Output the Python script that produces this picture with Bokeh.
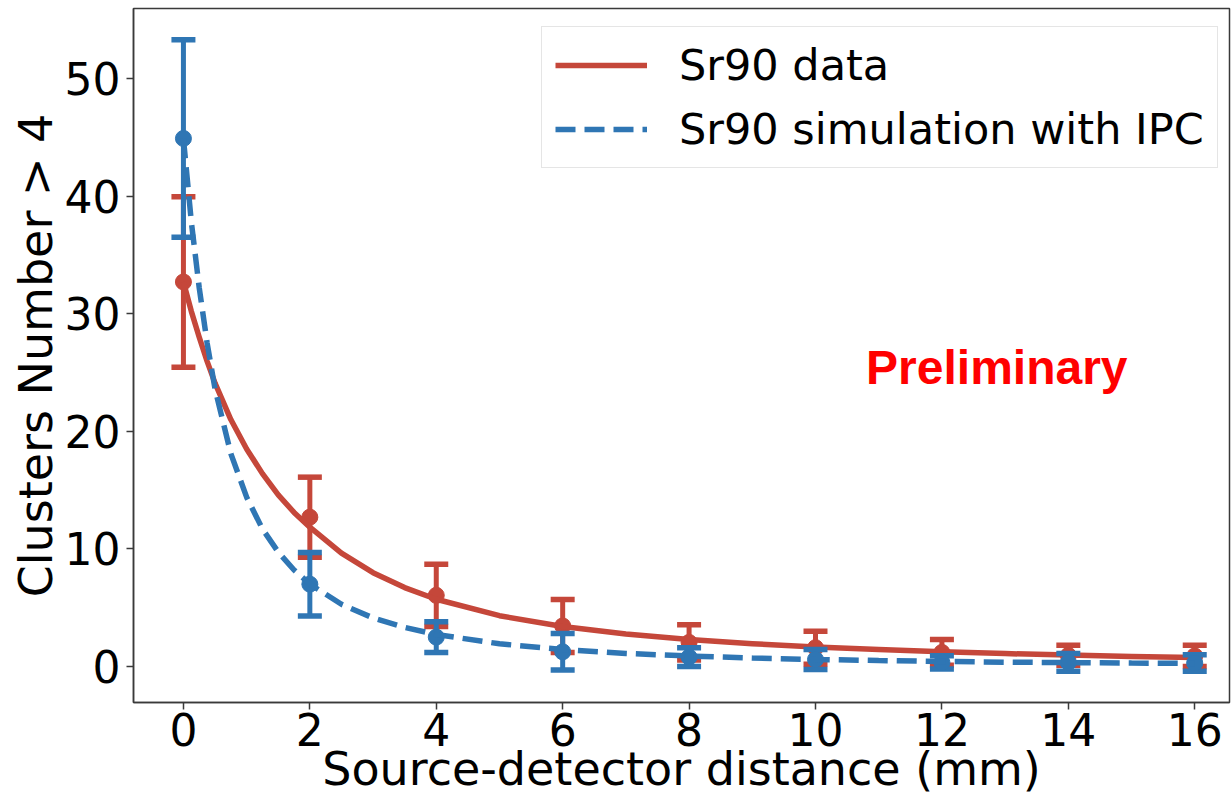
from bokeh.plotting import figure
from bokeh.models import Range1d, FixedTicker, Legend, LegendItem, ColumnDataSource, Label
from bokeh.embed import file_html
from bokeh.resources import INLINE

# ---- data ----
distance = [0, 2, 4, 6, 8, 10, 12, 14, 16]
data_counts = [32.7, 12.7, 6.05, 3.45, 2.05, 1.6, 1.2, 0.95, 0.9]
data_err = [7.25, 3.4, 2.65, 2.25, 1.5, 1.4, 1.1, 0.85, 0.9]
sim_counts = [44.9, 7.0, 2.5, 1.25, 0.8, 0.6, 0.35, 0.35, 0.3]
sim_err = [8.4, 2.7, 1.3, 1.55, 0.8, 0.85, 0.57, 0.75, 0.7]

fit_x = [0, 0.125, 0.25, 0.375, 0.5, 0.75, 1, 1.25, 1.5, 1.75, 2, 2.5, 3, 3.5, 4,
         5, 6, 7, 8, 9, 10, 11, 12, 13, 14, 15, 16]
data_fit = [32.7, 30.2, 28.0, 25.95, 24.1, 21.0, 18.5, 16.4, 14.6, 13.1, 11.85, 9.64, 7.98,
            6.71, 5.72, 4.32, 3.40, 2.77, 2.30, 1.94, 1.66, 1.44, 1.25, 1.10, 0.97, 0.86, 0.77]
sim_fit = [44.9, 37.8, 32.2, 27.5, 23.6, 18.1, 14.4, 11.7, 9.73, 8.21, 7.01, 5.29, 4.13,
           3.32, 2.72, 1.93, 1.44, 1.11, 0.89, 0.72, 0.60, 0.51, 0.43, 0.37, 0.33, 0.29, 0.26]

x_ticks = [0, 2, 4, 6, 8, 10, 12, 14, 16]
y_ticks = [0, 10, 20, 30, 40, 50]

series_labels = ["Sr90 data", "Sr90 simulation with IPC"]
x_label = "Source-detector distance (mm)"
y_label = "Clusters Number > 4"
note_text = "Preliminary"

RED = "#c5473a"
BLUE = "#2f76b4"
FONT = "DejaVu Sans"

p = figure(width=1232, height=799,
           x_range=Range1d(-0.79, 16.55), y_range=Range1d(-3.06, 55.95),
           output_backend="svg", toolbar_location=None,
           min_border_left=133, min_border_right=3, min_border_top=8, min_border_bottom=97)
p.xgrid.visible = False
p.ygrid.visible = False
p.outline_line_color = "#3a3a3a"
p.outline_line_width = 1.5
p.background_fill_color = "white"
p.border_fill_color = "white"

for ax in (p.xaxis[0], p.yaxis[0]):
    ax.axis_line_color = "#3a3a3a"
    ax.axis_line_width = 1.5
    ax.major_tick_line_color = "#3a3a3a"
    ax.major_tick_line_width = 1.5
    ax.major_tick_out = 7
    ax.major_tick_in = 0
    ax.minor_tick_line_color = None
    ax.major_label_text_font = FONT
    ax.major_label_text_font_size = "44px"
    ax.major_label_text_color = "black"
    ax.axis_label_text_font = FONT
    ax.axis_label_text_font_size = "46px"
    ax.axis_label_text_font_style = "normal"
    ax.axis_label_text_color = "black"

p.xaxis.ticker = FixedTicker(ticks=x_ticks)
p.yaxis.ticker = FixedTicker(ticks=y_ticks)
p.xaxis.axis_label = x_label
p.yaxis.axis_label = y_label
p.xaxis.major_label_standoff = 3
p.xaxis.axis_label_standoff = -7
p.yaxis.major_label_standoff = 6
p.yaxis.axis_label_standoff = -1

red_src = ColumnDataSource(dict(
    x=distance, y=data_counts,
    lo=[v - e for v, e in zip(data_counts, data_err)],
    hi=[v + e for v, e in zip(data_counts, data_err)]))
blue_src = ColumnDataSource(dict(
    x=distance, y=sim_counts,
    lo=[v - e for v, e in zip(sim_counts, sim_err)],
    hi=[v + e for v, e in zip(sim_counts, sim_err)]))
fit_src = ColumnDataSource(dict(x=fit_x, d=data_fit, s=sim_fit))

def errorbars(src, color):
    p.segment(x0="x", y0="lo", x1="x", y1="hi", source=src, line_color=color, line_width=5)
    p.scatter(x="x", y="lo", source=src, marker="dash", size=24, line_color=color, line_width=5.5)
    p.scatter(x="x", y="hi", source=src, marker="dash", size=24, line_color=color, line_width=5.5)
    p.scatter(x="x", y="y", source=src, marker="circle", size=16, fill_color=color, line_color=color)

errorbars(red_src, RED)
r_line = p.line(x="x", y="d", source=fit_src, line_color=RED, line_width=5.5, line_join="round")
errorbars(blue_src, BLUE)
b_line = p.line(x="x", y="s", source=fit_src, line_color=BLUE, line_width=5.5, line_dash="20 9")

legend = Legend(items=[LegendItem(label=series_labels[0], renderers=[r_line]),
                       LegendItem(label=series_labels[1], renderers=[b_line])],
                location=(408, 534))
legend.label_text_font = FONT
legend.label_text_font_size = "43px"
legend.label_text_color = "black"
legend.glyph_width = 92
legend.glyph_height = 40
legend.label_standoff = 32
legend.padding = 13
legend.spacing = 14
legend.margin = 0
legend.border_line_color = "#cccccc"
legend.border_line_width = 1.5
legend.background_fill_alpha = 0.8
p.add_layout(legend)

p.add_layout(Label(x=10.8, y=25.4, text=note_text,
                   text_font="Liberation Sans", text_font_style="bold",
                   text_font_size="48px", text_color="red",
                   text_align="left", text_baseline="alphabetic"))

open("out.html", "w").write(file_html(p, INLINE))
